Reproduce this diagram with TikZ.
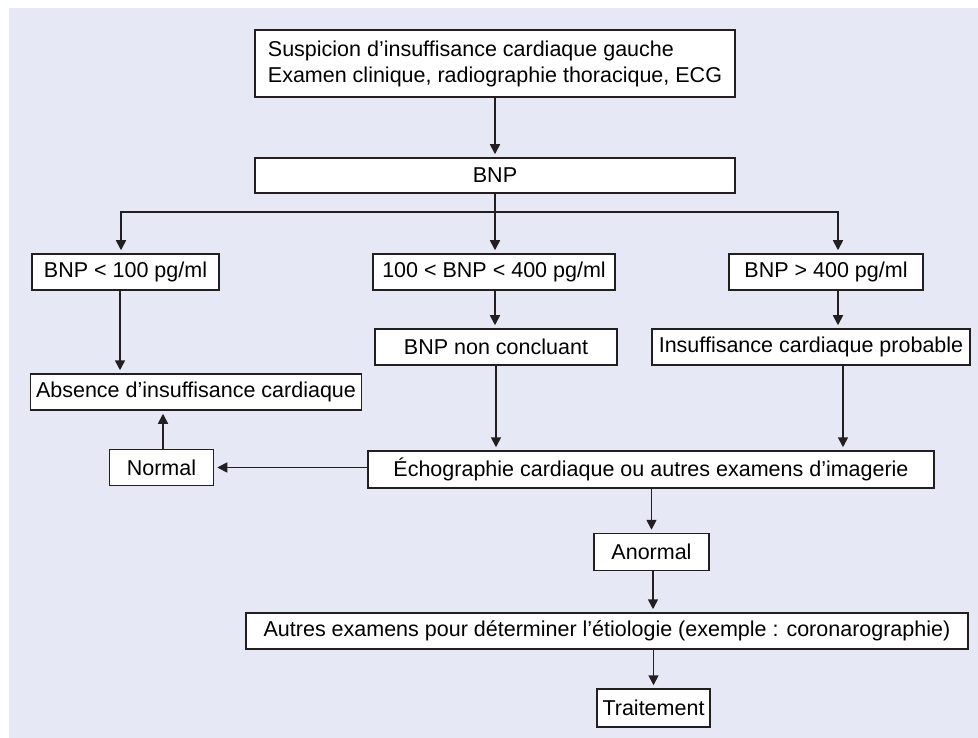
\documentclass[tikz,border=0pt]{standalone}
\usepackage{fontspec}
\setmainfont{Liberation Sans}
\usepackage{xcolor}
\usetikzlibrary{arrows.meta}

\definecolor{fondbleu}{HTML}{E6E8F5}
\definecolor{trait}{HTML}{231F20}

\begin{document}
\begin{tikzpicture}[x=1pt,y=-1pt,
    boite/.style={draw=trait, line width=1.5pt, fill=white, inner sep=0pt,
      font=\fontsize{21.5pt}{26pt}\selectfont},
    fleche/.style={draw=trait, line width=1.7pt, shorten >=3pt,
      -{Triangle[length=10pt,width=10pt]}}]

      \useasboundingbox (0,0) rectangle (978,738);
      \fill[fondbleu] (9,8) rectangle (978,738);

      \node[boite, align=left, minimum width=480pt, minimum height=67pt] (suspicion) at (495,63.5)
        {Suspicion d’insuffisance cardiaque gauche\\Examen clinique, radiographie thoracique, ECG};
      \node[boite, minimum width=480pt, minimum height=35pt] (bnp) at (495,175.5) {BNP};

      \node[boite, minimum width=187pt, minimum height=36pt] (bas) at (125.5,272) {BNP < 100 pg/ml};
      \node[boite, minimum width=242pt, minimum height=36pt] (moyen) at (494,272) {100 < BNP < 400 pg/ml};
      \node[boite, minimum width=194pt, minimum height=36pt] (haut) at (826,272) {BNP > 400 pg/ml};

      \node[boite, minimum width=242pt, minimum height=36pt] (nonconcl) at (496,347) {BNP non concluant};
      \node[boite, minimum width=318pt, minimum height=36pt] (probable) at (811,347) {Insuffisance cardiaque probable};
      \node[boite, minimum width=331pt, minimum height=36pt] (absence) at (196,392) {Absence d’insuffisance cardiaque};

      \node[boite, minimum width=104pt, minimum height=36pt] (normal) at (161.5,467.5) {Normal};
      \node[boite, minimum width=566pt, minimum height=37pt] (echo) at (651,469.5) {Échographie cardiaque ou autres examens d’imagerie};
      \node[boite, minimum width=115pt, minimum height=37pt] (anormal) at (651.5,552) {Anormal};
      \node[boite, minimum width=722pt, minimum height=36pt] (autres) at (607,631)
        {Autres examens pour déterminer l’étiologie (exemple : coronarographie)};
      \node[boite, minimum width=113pt, minimum height=38pt] (traitement) at (653.5,708) {Traitement};

      % branches du BNP
      \coordinate (split) at (495,212);
      \draw[fleche] (suspicion.south) -- (bnp.north);
      \draw[fleche] (bnp.south) -- (bnp.south |- moyen.north);
      \draw[fleche] (split) -| ([xshift=-4.5pt]bas.north);
      \draw[fleche] (split) -| ([xshift=12pt]haut.north);

      \draw[fleche] ([xshift=-5.5pt]bas.south) -- ([xshift=-5.5pt]bas.south |- absence.north);
      \draw[fleche] ([xshift=1pt]moyen.south) -- ([xshift=1pt]moyen.south |- nonconcl.north);
      \draw[fleche] ([xshift=12pt]haut.south) -- ([xshift=12pt]haut.south |- probable.north);

      % vers l'echographie
      \draw[fleche] (nonconcl.south) -- (nonconcl.south |- echo.north);
      \draw[fleche] ([xshift=32pt]probable.south) -- ([xshift=32pt]probable.south |- echo.north);
      \draw[fleche] (echo.west |- normal) -- (normal.east);
      \draw[fleche] ([xshift=1.5pt]normal.north) -- ([xshift=1.5pt]normal.north |- absence.south);

      \draw[fleche] (anormal.north |- echo.south) -- (anormal.north);
      \draw[fleche] ([xshift=1.5pt]anormal.south) -- ([xshift=1.5pt]anormal.south |- autres.north);
      \draw[fleche] (traitement.north |- autres.south) -- (traitement.north);

    \end{tikzpicture}
\end{document}
